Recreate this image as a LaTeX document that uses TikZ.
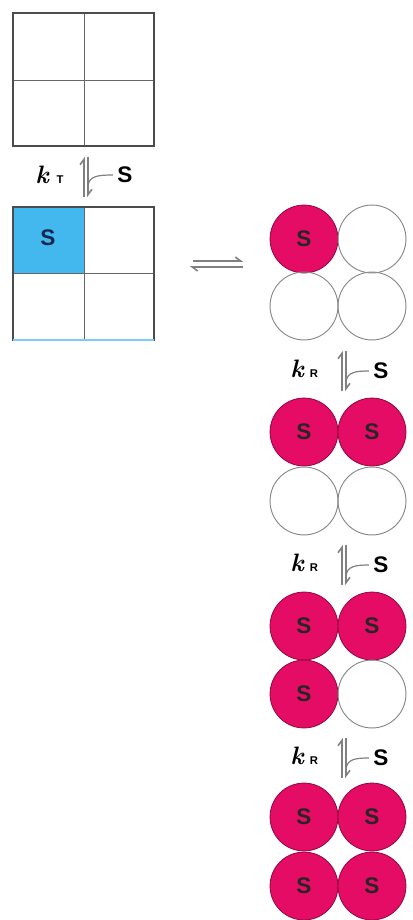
\documentclass[tikz,border=0pt]{standalone}
\usepackage{fontspec}
\setsansfont{Liberation Sans}
\usetikzlibrary{arrows.meta}
\definecolor{siteblue}{RGB}{66,184,238}
\definecolor{boundred}{RGB}{228,12,100}
\definecolor{ringgray}{RGB}{135,135,135}
\definecolor{navy}{RGB}{22,38,80}
\begin{document}
\begin{tikzpicture}[
    x=0.0265cm, y=-0.0265cm,
    frame/.style={draw, line width=1.2pt, black!70},
    divider/.style={draw, line width=0.6pt, black!60},
    full/.style={circle, draw=boundred!65!black, line width=0.6pt, fill=boundred,
      minimum size=1.8cm, inner sep=0pt, text=black!85,
      font=\sffamily\bfseries\fontsize{17}{17}\selectfont},
    empty/.style={circle, draw=ringgray, line width=0.7pt, minimum size=1.8cm, inner sep=0pt},
    ligand/.style={font=\sffamily\bfseries\fontsize{17}{17}\selectfont},
    rate/.style={font=\bfseries\itshape\fontsize{19}{19}\selectfont},
    subrate/.style={font=\sffamily\bfseries\fontsize{8.5}{8.5}\selectfont},
    harp/.style={draw=gray, line width=1.2pt, -{Straight Barb[left, length=4pt, width=6pt]}},
    branch/.style={draw=gray, line width=0.9pt}
]
  \useasboundingbox (0,0) rectangle (412,920);
  % --- tetramer, no ligand ----------------------------------------------
  \begin{scope}
    \draw[divider] (84,13) -- (84,146);
    \draw[divider] (13,80) -- (154,80);
    \draw[frame] (13,13) rectangle (154,146);
  \end{scope}
  % --- first ligand, T state ---------------------------------------------
  \node[rate] (kT) at (42,175) {k};
  \node[subrate] (kTs) at (60,180) {T};
  \coordinate (tU) at (84,197);
  \coordinate (tD) at (88,157);
  \draw[harp] (tU) -- ++(0,-40);
  \draw[harp] (tD) -- ++(0,40);
  \node[ligand] (sT) at (125,175) {S};
  \draw[branch] (sT.west) .. controls (98,175) and (89,176) .. (88,186);
  \begin{scope}
    \fill[siteblue] (13,207) rectangle (84,273);
    \draw[divider] (84,207) -- (84,340);
    \draw[divider] (13,273) -- (154,273);
    \draw[frame] (13,207) rectangle (154,340);
    \draw[siteblue!70, line width=1.2pt] (13,340) -- (154,340);
    \node[ligand, text=navy] (s0) at (48,238) {S};
  \end{scope}
  % --- switch to R state -------------------------------------------------
  \coordinate (hR) at (193,261);
  \coordinate (hL) at (243,267);
  \draw[harp] (hR) -- (243,261);
  \draw[harp] (hL) -- (190,267);
  % --- R state, subunits fill one by one --------------------------------
  \foreach \yy/\ls/\lt/\rs/\rt [count=\i] in {
      239/full/S/empty/{}, 306/empty/{}/empty/{},
      432/full/S/full/S,   501/empty/{}/empty/{},
      626/full/S/full/S,   694/full/S/empty/{},
      817/full/S/full/S,   886/full/S/full/S} {
    \node[\ls] (c\i l) at (304,\yy) {\lt};
    \node[\rs] (c\i r) at (372,\yy) {\rt};
  }
  \foreach \yy [count=\j] in {371,565,758} {
    \node[rate] (kR\j) at (297,\yy-2) {k};
    \node[subrate] (kRs\j) at (314,\yy+3) {R};
    \coordinate (rU\j) at (342,\yy+20);
    \coordinate (rD\j) at (346,\yy-20);
    \draw[harp] (rU\j) -- ++(0,-40);
    \draw[harp] (rD\j) -- ++(0,40);
    \node[ligand] (sR\j) at (381,\yy) {S};
    \draw[branch] (sR\j.west) .. controls (356,\yy) and (347,\yy+1) .. (346,\yy+11);
  }
\end{tikzpicture}
\end{document}
